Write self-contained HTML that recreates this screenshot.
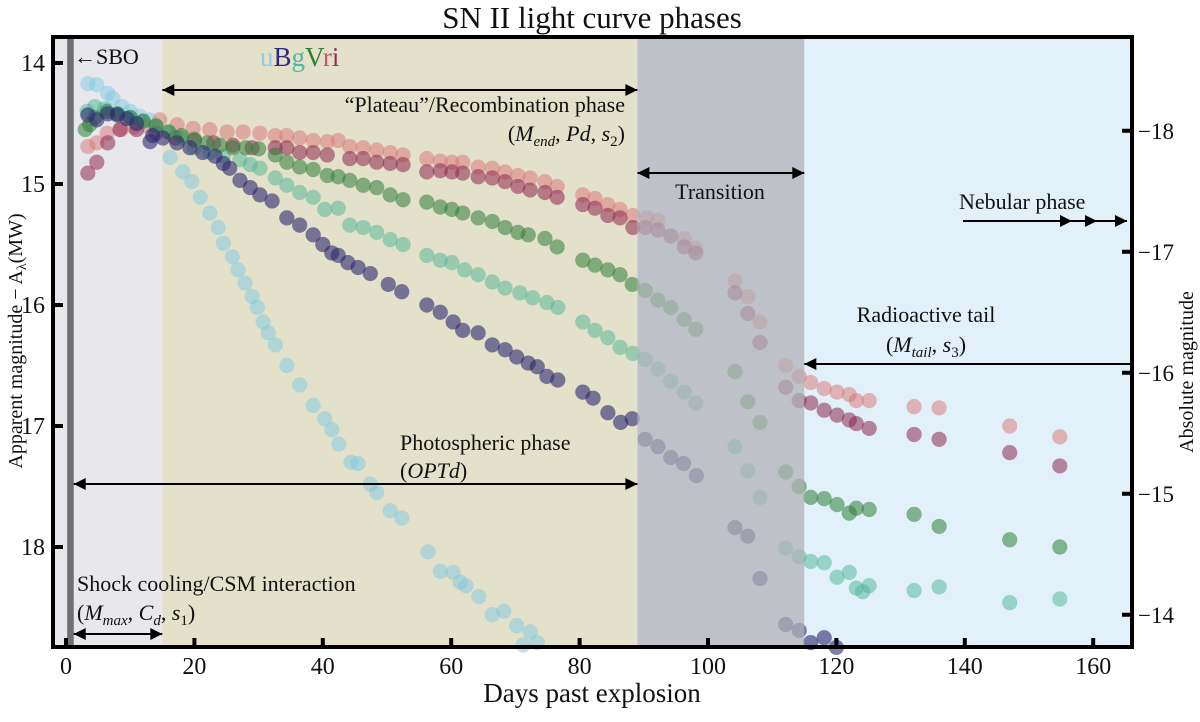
<!DOCTYPE html>
<html><head><meta charset="utf-8"><style>
html,body{margin:0;padding:0;background:#fff;}
svg text{font-family:"Liberation Serif",serif;fill:#111;}
</style></head><body>
<svg id="chart" width="1200" height="717" viewBox="0 0 1200 717" xmlns="http://www.w3.org/2000/svg">
<text x="592" y="28" font-size="31" text-anchor="middle">SN II light curve phases</text>
<g id="bands"></g>
<g id="points"></g>
<g id="overlay"></g>
<g id="annot">
  <text x="74" y="64" font-size="22">←SBO</text>
  <text x="260" y="66" font-size="27"><tspan fill="#8fcde6">u</tspan><tspan fill="#2c2c86">B</tspan><tspan fill="#4fb79c">g</tspan><tspan fill="#2f7f2f">V</tspan><tspan fill="#cc5568">r</tspan><tspan fill="#8e2e5c">i</tspan></text>
  <text x="625" y="112" font-size="22" text-anchor="end">“Plateau”/Recombination phase</text>
  <text x="625" y="141" font-size="22" text-anchor="end">(<tspan font-style="italic">M</tspan><tspan font-style="italic" font-size="15" dy="5">end</tspan><tspan dy="-5">, </tspan><tspan font-style="italic">Pd</tspan>, <tspan font-style="italic">s</tspan><tspan font-size="15" dy="5">2</tspan><tspan dy="-5">)</tspan></text>
  <text x="720" y="199" font-size="22" text-anchor="middle">Transition</text>
  <text x="959" y="209" font-size="22">Nebular phase</text>
  <text x="926" y="322" font-size="22" text-anchor="middle">Radioactive tail</text>
  <text x="926" y="352" font-size="22" text-anchor="middle">(<tspan font-style="italic">M</tspan><tspan font-style="italic" font-size="15" dy="5">tail</tspan><tspan dy="-5">, </tspan><tspan font-style="italic">s</tspan><tspan font-size="15" dy="5">3</tspan><tspan dy="-5">)</tspan></text>
  <text x="400" y="450" font-size="22">Photospheric phase</text>
  <text x="400" y="478" font-size="22">(<tspan font-style="italic">OPTd</tspan>)</text>
  <text x="77" y="591" font-size="22">Shock cooling/CSM interaction</text>
  <text x="77" y="620" font-size="22">(<tspan font-style="italic">M</tspan><tspan font-style="italic" font-size="15" dy="5">max</tspan><tspan dy="-5">, </tspan><tspan font-style="italic">C</tspan><tspan font-style="italic" font-size="15" dy="5">d</tspan><tspan dy="-5">, </tspan><tspan font-style="italic">s</tspan><tspan font-size="15" dy="5">1</tspan><tspan dy="-5">)</tspan></text>
</g>
<g id="arrows"></g>
<g id="axes"></g>
<text x="592" y="702" font-size="27" text-anchor="middle">Days past explosion</text>
<text transform="translate(22,341) rotate(-90)" font-size="20" text-anchor="middle">Apparent magnitude − A<tspan font-size="14" dy="4">λ</tspan><tspan dy="-4">(MW)</tspan></text>
<text transform="translate(1193,372) rotate(-90)" font-size="20" text-anchor="middle">Absolute magnitude</text>
</svg>
<script>
const xTicks = [0,20,40,60,80,100,120,140,160];
const yTicks = [14,15,16,17,18];
const absTicks = [-18,-17,-16,-15,-14];
const distMod = 32.56;
const phases = [[-2,0.2,'#e8e8ec','early'],[0.2,1.2,'#707072','sbo'],[1.2,15,'#e8e8ec','shock'],[15,89,'#e4e1ca','plateau'],[89,115,'#e2f1f9','transition'],[115,167,'#e2f1f9','tail']];
const uBand = [[3.4,14.17],[4.8,14.18],[6.5,14.25],[7.3,14.29],[8.7,14.36],[10,14.4],[11.5,14.44],[13,14.47],[16.2,14.78],[18.2,14.9],[19.6,14.98],[20.9,15.11],[22.4,15.24],[23.7,15.36],[24.5,15.49],[25.9,15.6],[26.8,15.71],[27.9,15.82],[29,15.93],[29.8,16.02],[30.7,16.14],[31.5,16.23],[32.6,16.33],[34.4,16.5],[36.4,16.66],[38.5,16.83],[40.3,16.94],[41.4,17.03],[42.5,17.15],[44.4,17.3],[45.5,17.31],[47.4,17.48],[48.4,17.55],[50.5,17.7],[52.3,17.76],[56.4,18.04],[58.3,18.2],[60.3,18.21],[61.4,18.29],[62.3,18.32],[64.3,18.41],[66.4,18.56],[68.2,18.53],[70.2,18.65],[72.3,18.7],[73.4,18.79],[71.2,18.81]];
const bBand = [[3.4,14.43],[4.8,14.47],[6.5,14.42],[8,14.43],[9.5,14.46],[11,14.5],[13.1,14.65],[13.5,14.6],[15.1,14.62],[17.3,14.66],[19.3,14.7],[21.3,14.74],[23.2,14.77],[24.5,14.83],[25.5,14.87],[27.1,14.97],[28.7,15.03],[30.2,15.09],[32.1,15.14],[34.4,15.28],[36.4,15.34],[38.5,15.42],[40,15.5],[41.4,15.57],[42.4,15.59],[43.9,15.65],[45.5,15.69],[47.4,15.74],[50.2,15.83],[52.3,15.89],[56.2,16.0],[58.3,16.06],[60.3,16.14],[61.8,16.21],[64.2,16.23],[66.4,16.33],[68.4,16.37],[70.2,16.43],[72,16.48],[73.4,16.51],[74.9,16.59],[76.6,16.62],[80.5,16.72],[82.1,16.77],[84.4,16.89],[86.4,16.97],[88.2,16.94],[90.2,17.11],[92.2,17.17],[94.2,17.26],[96.2,17.31],[98.2,17.41],[104.2,17.84],[106.2,17.91],[108.1,18.26],[112.1,18.64],[114.2,18.69],[116,18.79],[118.1,18.75],[120,18.83]];
const gBand = [[3.3,14.4],[4.5,14.36],[6,14.38],[8,14.42],[10,14.45],[12,14.48],[14,14.52],[16,14.57],[18,14.62],[20,14.7],[22.4,14.74],[24.5,14.77],[27.1,14.8],[28.7,14.84],[30.2,14.87],[32.6,14.95],[34.4,15.01],[36.4,15.07],[38.5,15.11],[40.3,15.21],[42.4,15.2],[44.2,15.34],[46.3,15.36],[48.4,15.4],[50.5,15.46],[52.5,15.5],[56.2,15.59],[58.3,15.63],[60.1,15.65],[62.1,15.71],[64.2,15.75],[66.4,15.81],[68.4,15.86],[70.7,15.9],[72.7,15.94],[74.9,15.98],[76.6,16.02],[80.5,16.14],[82.4,16.21],[84.4,16.27],[86.3,16.35],[88.3,16.4],[90.2,16.45],[92.2,16.53],[94.2,16.63],[96.3,16.72],[98.1,16.81],[104.2,17.17],[106.2,17.37],[108.1,17.59],[112.1,18.01],[114.2,18.08],[116,18.12],[118.1,18.13],[120.1,18.25],[122,18.21],[123.1,18.34],[124.1,18.37],[125.1,18.32],[132.1,18.36],[136,18.33],[147,18.46],[154.8,18.43]];
const vBand = [[3,14.55],[3.7,14.51],[4.5,14.45],[6.4,14.4],[8,14.42],[10,14.45],[12,14.48],[14,14.52],[16,14.57],[18,14.6],[20,14.63],[22,14.66],[24,14.68],[26,14.7],[28,14.7],[30,14.71],[32.6,14.76],[34.4,14.82],[36.4,14.86],[38.5,14.88],[40.7,14.93],[42.4,14.94],[44.2,14.97],[46.3,15.01],[48.4,15.03],[50.5,15.09],[52.5,15.13],[56.2,15.15],[58.3,15.19],[60.1,15.21],[61.8,15.24],[64.2,15.28],[66.4,15.31],[68.4,15.36],[70.4,15.4],[72,15.42],[74.6,15.45],[76.5,15.52],[80.5,15.63],[82.4,15.67],[84.4,15.71],[86.3,15.75],[88.2,15.83],[90.2,15.88],[92.2,15.96],[94.2,16.02],[96.3,16.12],[98.1,16.2],[104.2,16.55],[106.2,16.8],[108.1,16.97],[112.1,17.38],[114.2,17.5],[116,17.59],[118.1,17.6],[120.1,17.65],[122,17.72],[123.1,17.68],[125.1,17.69],[132.1,17.73],[136,17.83],[147,17.94],[154.8,18.0]];
const rBand = [[3.4,14.69],[4.8,14.66],[6.4,14.58],[8.6,14.55],[10.6,14.53],[12.6,14.52],[14.6,14.47],[17.3,14.51],[19.8,14.54],[22.4,14.55],[25.1,14.57],[27.6,14.57],[30.2,14.58],[32.6,14.6],[34.4,14.6],[36.4,14.62],[38.5,14.64],[40.7,14.65],[42.4,14.64],[44.2,14.69],[46.3,14.7],[48.4,14.72],[50.5,14.74],[52.5,14.76],[56.2,14.79],[58.3,14.81],[60.1,14.82],[61.8,14.82],[64.2,14.86],[66.4,14.87],[68.4,14.9],[70.4,14.93],[72.3,14.95],[74.6,14.98],[76.5,15.02],[80.5,15.09],[82.4,15.12],[84.4,15.17],[86.3,15.21],[88.3,15.26],[90.5,15.28],[92.2,15.3],[96.3,15.45],[98.1,15.53],[104.2,15.8],[106.2,15.93],[108.1,16.14],[112.1,16.5],[114.2,16.59],[116,16.64],[118.1,16.69],[120.1,16.72],[122,16.74],[123.1,16.79],[125.1,16.79],[132.1,16.84],[136,16.85],[147,17.0],[154.8,17.09]];
const iBand = [[3.4,14.91],[4.8,14.82],[6.5,14.66],[8.4,14.55],[11,14.55],[14,14.58],[17,14.62],[20,14.64],[23,14.66],[26,14.68],[29,14.7],[32.6,14.7],[34.4,14.7],[36.4,14.74],[38.5,14.74],[40.7,14.76],[44.2,14.79],[46.3,14.79],[48.4,14.82],[50.5,14.83],[52.5,14.84],[56.2,14.9],[58.3,14.89],[60.1,14.9],[61.8,14.91],[64.2,14.94],[66.4,14.95],[68.4,14.98],[70.4,15.02],[72.3,15.05],[74.6,15.07],[76.5,15.11],[80.5,15.17],[82.4,15.2],[84.4,15.26],[86.3,15.28],[88.3,15.36],[90.2,15.36],[92.2,15.38],[94.2,15.43],[96.3,15.52],[98.1,15.57],[104.2,15.9],[106.2,16.07],[108.1,16.31],[112.1,16.68],[114.2,16.79],[116,16.81],[118.1,16.87],[120.1,16.91],[122,16.95],[123.1,16.98],[125.1,17.02],[132.1,17.07],[136,17.11],[147,17.22],[154.8,17.33]];

const NS='http://www.w3.org/2000/svg';
const L=53,R=1132,T=37,B=647;
function xs(d){return 66+6.42*d;}
function ys(m){return 63+121*(m-14);}
function mk(tag,attrs,parent){const e=document.createElementNS(NS,tag);for(const k in attrs)e.setAttribute(k,attrs[k]);parent.appendChild(e);return e;}
const gB=document.getElementById('bands'),gP=document.getElementById('points'),gO=document.getElementById('overlay'),gA=document.getElementById('arrows'),gX=document.getElementById('axes');
phases.forEach(p=>{const x1=Math.max(L,xs(p[0])),x2=Math.min(R,xs(p[1]));
 const r=mk('rect',{x:x1,y:T,width:x2-x1,height:B-T,fill:p[2]},gB);
 
 });
const series=[[uBand,'rgba(125,200,225,0.5)','u'],[rBand,'rgba(215,115,115,0.5)','r'],[iBand,'rgba(140,40,80,0.55)','i'],[gBand,'rgba(75,180,150,0.5)','g'],[vBand,'rgba(45,125,55,0.55)','V'],[bBand,'rgba(45,40,110,0.6)','B']];
series.forEach(s=>{const g=mk('g',{},gP);
 
 
 s[0].forEach(pt=>{const c=mk('circle',{cx:xs(pt[0]),cy:ys(pt[1]),r:7.6,fill:s[1]},g);
  
  });});
const ov=mk('rect',{x:xs(89),y:T,width:xs(115)-xs(89),height:B-T,fill:'rgba(176,176,180,0.72)'},gO);


const ov2=mk('rect',{x:xs(0.2),y:T,width:xs(1.2)-xs(0.2),height:B-T,fill:'#707072'},gO);


function head(x,y,dir){const h=12,w=6;mk('polygon',{points:`${x},${y} ${x-dir*h},${y-w} ${x-dir*h},${y+w}`,fill:'#000'},gA);}
function arrow(name,x1,x2,y,left,right){const g=mk('line',{x1:x1,y1:y,x2:x2,y2:y,stroke:'#000','stroke-width':2},gA);
 
 
 if(left)head(x1,y,-1);if(right)head(x2,y,1);}
arrow('plateau-arrow',xs(15),xs(89),90,true,true);
arrow('transition-arrow',xs(89),xs(115),173,true,true);
arrow('tail-arrow',xs(115),R,364,true,false);
arrow('photospheric-arrow',xs(1.2),xs(89),484,true,true);
arrow('shock-arrow',xs(1.2),xs(15),634,true,true);
arrow('nebular-arrow',963,1127,221,false,true);
head(1072,221,1);head(1097,221,1);
mk('rect',{x:L,y:T,width:R-L,height:B-T,fill:'none',stroke:'#000','stroke-width':4},gX);
xTicks.forEach(t=>{const x=xs(t);mk('line',{x1:x,y1:B,x2:x,y2:B-9,stroke:'#000','stroke-width':4},gX);
 const tx=mk('text',{x:x,y:674,'font-size':24,'text-anchor':'middle'},gX);tx.textContent=t;
 
 });
yTicks.forEach(t=>{const y=ys(t);mk('line',{x1:L,y1:y,x2:L+10,y2:y,stroke:'#000','stroke-width':4},gX);
 const tx=mk('text',{x:45,y:y+8,'font-size':24,'text-anchor':'end'},gX);tx.textContent=t;
 
 });
absTicks.forEach(t=>{const y=ys(t+distMod);mk('line',{x1:R,y1:y,x2:R-10,y2:y,stroke:'#000','stroke-width':4},gX);
 const tx=mk('text',{x:1138,y:y+8,'font-size':23},gX);tx.textContent='−'+Math.abs(t);
 
 });
</script>
</body></html>
